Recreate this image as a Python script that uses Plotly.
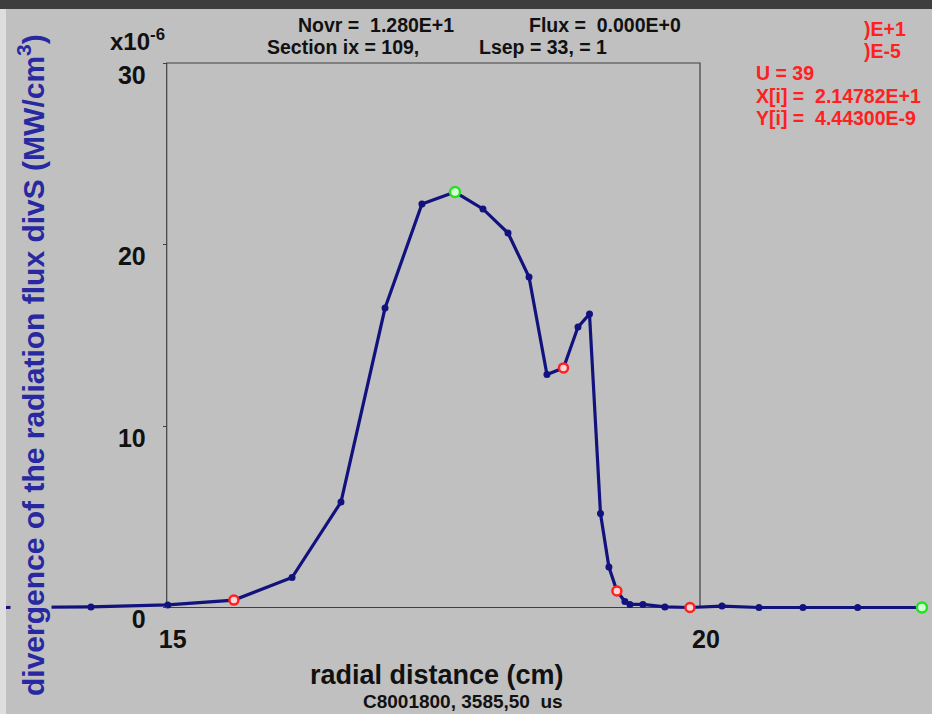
import plotly.graph_objects as go

# ---- data (radial distance in cm, divS in units of 1e-6 MW/cm^3) ----
x_cm = [13.44, 14.29, 15.01, 15.63, 16.175, 16.634, 17.047, 17.393, 17.703, 17.965,
        18.200, 18.397, 18.565, 18.720, 18.856, 18.964, 19.067, 19.146, 19.221, 19.296,
        19.343, 19.465, 19.671, 19.906, 20.206, 20.553, 20.965, 21.4782, 22.081]
divS = [0.0, 0.03, 0.14, 0.41, 1.65, 5.81, 16.50, 22.23, 22.89, 21.96,
        20.63, 18.21, 12.84, 13.20, 15.45, 16.17, 5.18, 2.23, 0.91, 0.33,
        0.17, 0.17, 0.03, 0.0, 0.08, 0.0, 0.0, 0.00444, 0.0]
red_idx = [3, 13, 18, 23]
green_idx = [8, 28]
x_ticks = [15, 20]
y_ticks = [0, 10, 20, 30]
x_frame = [15, 20]
y_frame = [0, 30]

FONT = "Liberation Sans, Arial, sans-serif"
BG = "#c0c0c0"
NAVY = "#12127e"

fig = go.Figure()
fig.add_trace(go.Scatter(
    x=x_cm, y=divS, mode="lines+markers",
    line=dict(color=NAVY, width=3.2),
    marker=dict(color=NAVY, size=7),
    cliponaxis=False, showlegend=False))
fig.add_trace(go.Scatter(
    x=[x_cm[i] for i in red_idx], y=[divS[i] for i in red_idx], mode="markers",
    marker=dict(color="#ffd6d6", size=9, line=dict(color="#ff2020", width=2.5)),
    cliponaxis=False, showlegend=False))
fig.add_trace(go.Scatter(
    x=[x_cm[i] for i in green_idx], y=[divS[i] for i in green_idx], mode="markers",
    marker=dict(color="#d8ffd8", size=10, line=dict(color="#22e022", width=2.5)),
    cliponaxis=False, showlegend=False))

W, H = 932, 714
# pixel calibration: 15 cm -> 166.7 px, 20 cm -> 700 px ; 0 -> 607.5 px, 30 -> 63 px
kx = (700 - 166.7) / 5.0
ky = (607.5 - 63) / 30.0
x0 = 15 - 166.7 / kx
x1 = x0 + W / kx
y1 = 607.5 / ky
y0 = -(H - 607.5) / ky

fig.add_shape(type="rect", xref="x", yref="y",
              x0=x_frame[0], x1=x_frame[1], y0=y_frame[0], y1=y_frame[1],
              line=dict(color="#404040", width=1.2), layer="below")
# window decorations
fig.add_shape(type="rect", xref="paper", yref="paper", x0=0, x1=1, y0=1 - 9 / H, y1=1,
              fillcolor="#3e3e3e", line=dict(width=0), layer="above")
fig.add_shape(type="rect", xref="paper", yref="paper", x0=0, x1=6 / W, y0=0, y1=1 - 9 / H,
              fillcolor="#dedede", line=dict(width=0), layer="above")

fig.update_layout(
    width=W, height=H,
    margin=dict(l=0, r=0, t=0, b=0, pad=0),
    paper_bgcolor=BG, plot_bgcolor=BG,
    xaxis=dict(range=[x0, x1], showgrid=False, zeroline=False, showline=False,
               anchor="free", position=1 - 607.5 / H,
               tickmode="array", tickvals=x_ticks, ticks="",
               tickfont=dict(family=FONT, size=25, color="#111111", weight="bold"),
               ticklabelstandoff=14, ticklabelshift=6, automargin=False),
    yaxis=dict(range=[y0, y1], showgrid=False, zeroline=False, showline=False,
               anchor="free", position=166.7 / W,
               tickmode="array", tickvals=y_ticks, ticks="outside", ticklen=4,
               tickcolor="#404040", tickwidth=1,
               tickfont=dict(family=FONT, size=25, color="#111111", weight="bold"),
               ticklabelstandoff=12, ticklabelshift=12, automargin=False),
)

def ann(text, x, y, size, color="#111111", xanchor="center", **kw):
    fig.add_annotation(text=text, x=x / W, y=1 - y / H, xref="paper", yref="paper",
                       xanchor=xanchor, yanchor="middle", showarrow=False,
                       font=dict(family=FONT, size=size, color=color, weight="bold"), **kw)

NB = "\u00a0"
ann("divergence of the radiation flux divS (MW/cm<sup>3</sup>)", 31, 365, 30,
    color="#2828a0", textangle=-90, bgcolor=BG)
ann("x10<sup>-6</sup>", 137, 40, 24)
ann(f"Novr ={NB} 1.280E+1", 376, 25, 19.5)
ann(f"Flux ={NB} 0.000E+0", 605, 25, 19.5)
ann("Section ix = 109,", 343, 47, 19.5)
ann("Lsep = 33, = 1", 543, 47, 19.5)
ann(")E+1", 862, 29, 19.5, color="#ff2020", xanchor="left")
ann(")E-5", 862, 51, 19.5, color="#ff2020", xanchor="left")
ann("U = 39", 754, 73, 19.5, color="#ff2020", xanchor="left")
ann(f"X[i] ={NB} 2.14782E+1", 754, 96, 19.5, color="#ff2020", xanchor="left")
ann(f"Y[i] ={NB} 4.44300E-9", 754, 118, 19.5, color="#ff2020", xanchor="left")
ann("radial distance (cm)", 437, 675, 27)
ann(f"C8001800, 3585,50 {NB}us", 463, 701, 19)

fig.write_html("out.html",
               config={"displayModeBar": False},
               post_script="document.body.style.margin='0px';"
                           "document.body.style.overflow='hidden';")
